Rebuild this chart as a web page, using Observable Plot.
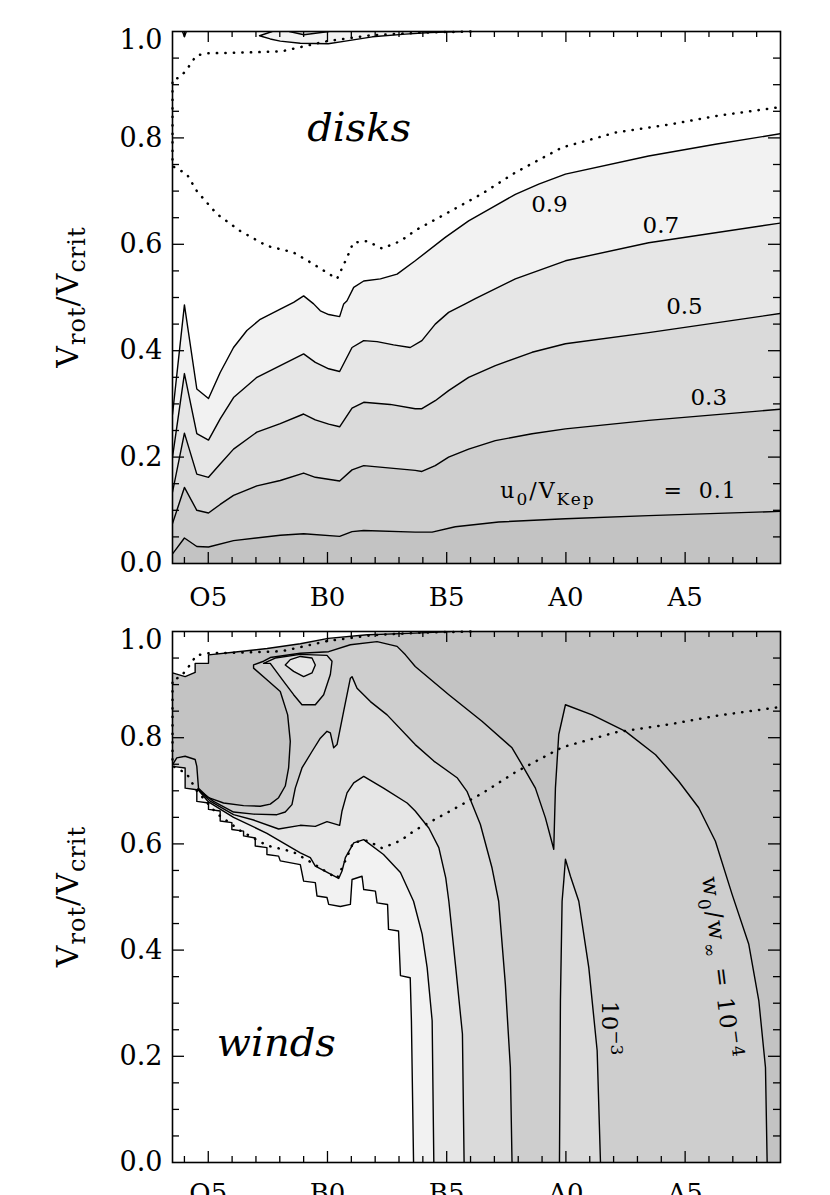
<!DOCTYPE html>
<html>
<head>
<meta charset="utf-8">
<script src="https://cdn.jsdelivr.net/npm/d3@7"></script>
<script src="https://cdn.jsdelivr.net/npm/@observablehq/plot@0.6"></script>
<style>
  html, body { margin: 0; padding: 0; background: #fff; overflow: hidden; }
  #chart { width: 830px; height: 1195px; overflow: hidden; }
  #chart svg { display: block; }
</style>
</head>
<body>
<div id="chart"></div>
<script>
// ---------- axes ----------
const xDomain = [3.5, 29];            // spectral subtype index (O0 = 0, B0 = 10, A0 = 20)
const yDomain = [0, 1];               // V_rot / V_crit
const spectralTicks = [5, 10, 15, 20, 25];
const spectralLabels = ["O5", "B0", "B5", "A0", "A5"];
const yTickValues = [0, 0.2, 0.4, 0.6, 0.8];
const yTopTick = [1.0];

// ---------- top panel: u0/VKep contours [subtype, Vrot/Vcrit] ----------
const disk09 = [[3.5,0.28],[4.0,0.486],[4.52,0.328],[5.01,0.310],[5.5,0.359],[6.06,0.406],[6.62,0.438],[7.18,0.459],[8.02,0.478],[8.58,0.491],[9.0,0.503],[9.42,0.488],[9.70,0.475],[10.05,0.468],[10.51,0.464],[10.68,0.488],[10.82,0.494],[11.10,0.519],[11.52,0.531],[12.22,0.535],[12.92,0.544],[13.68,0.569],[14.94,0.613],[15.92,0.644],[16.90,0.669],[17.88,0.694],[18.86,0.713],[19.98,0.732],[23.47,0.766],[26.27,0.788],[29.0,0.808]];
const disk07 = [[3.5,0.20],[4.0,0.357],[4.52,0.244],[5.01,0.232],[5.5,0.272],[6.06,0.312],[7.04,0.350],[8.02,0.372],[9.0,0.394],[9.49,0.378],[10.05,0.366],[10.51,0.361],[11.03,0.406],[11.52,0.419],[12.08,0.417],[12.77,0.411],[13.47,0.406],[13.96,0.419],[14.52,0.450],[15.08,0.472],[15.78,0.488],[16.20,0.498],[17.88,0.535],[19.98,0.569],[23.47,0.603],[29.0,0.640]];
const disk05 = [[3.5,0.134],[4.0,0.245],[4.52,0.168],[5.01,0.162],[5.5,0.187],[6.06,0.215],[7.04,0.247],[8.02,0.263],[9.0,0.281],[9.49,0.270],[10.05,0.262],[10.51,0.257],[11.03,0.292],[11.52,0.303],[12.63,0.299],[13.68,0.291],[13.96,0.291],[14.52,0.306],[15.08,0.325],[15.92,0.350],[17.04,0.372],[18.58,0.397],[19.98,0.413],[23.47,0.434],[29.0,0.470]];
const disk03 = [[3.5,0.075],[4.0,0.143],[4.52,0.100],[5.01,0.095],[5.5,0.111],[6.06,0.128],[7.04,0.146],[8.02,0.156],[9.0,0.170],[9.49,0.162],[10.51,0.155],[11.03,0.176],[11.52,0.184],[13.68,0.175],[13.96,0.173],[14.52,0.184],[15.08,0.200],[15.92,0.215],[17.04,0.231],[18.58,0.244],[19.98,0.253],[23.47,0.269],[29.0,0.290]];
const disk01 = [[3.5,0.018],[4.0,0.048],[4.52,0.032],[5.01,0.031],[6.06,0.043],[8.02,0.053],[9.0,0.056],[10.51,0.051],[11.03,0.060],[11.52,0.062],[13.68,0.059],[14.39,0.059],[15.36,0.069],[17.18,0.078],[19.98,0.084],[23.47,0.090],[29.0,0.098]];
const diskBlob = [[7.68,1.0],[7.15,0.992],[7.6,0.986],[8.02,0.982],[8.86,0.978],[10.03,0.977],[10.75,0.982],[11.88,0.990],[13.27,0.995],[14.31,0.998],[15.57,1.0]];
const diskBlobInner = [[8.40,1.0],[9.01,0.994],[10.06,1.0]];
const diskNotch = [[3.92,1.0],[4.0,0.99],[4.08,1.0]];
const diskLabels = [
  {label: "0.9", x: 19.31, y: 0.674},
  {label: "0.7", x: 23.98, y: 0.636},
  {label: "0.5", x: 24.97, y: 0.483},
  {label: "0.3", x: 25.99, y: 0.311}
];
const diskKeyStart = [19.27, 0.122];
const diskKeyEnd = [27.19, 0.122];
const diskTitle = [{t: "disks", x: 9.15, y: 0.794}];

// ---------- critical (dotted) boundary, same in both panels ----------
const critical = [[16.0,1.0],[14.0,0.998],[11.85,0.993],[10.0,0.982],[9.0,0.972],[8.1,0.963],[7.0,0.961],[5.0,0.959],[4.5,0.955],[4.06,0.926],[3.78,0.913],[3.5,0.91],[3.5,0.747],[4.10,0.732],[4.52,0.700],[5.36,0.657],[6.34,0.625],[7.46,0.597],[8.56,0.585],[9.40,0.563],[10.40,0.535],[10.82,0.575],[11.08,0.603],[11.66,0.606],[12.29,0.592],[13.06,0.606],[13.68,0.626],[15.07,0.660],[16.48,0.695],[17.88,0.735],[19.84,0.782],[22.08,0.810],[24.46,0.826],[26.27,0.841],[28.86,0.857],[29.0,0.858]];

// ---------- bottom panel: w0/w_inf contours ----------
const windC4 = [[3.50,0.749],[3.68,0.762],[4.03,0.765],[4.45,0.759],[4.52,0.746],[4.59,0.705],[5.01,0.687],[5.64,0.677],[6.48,0.672],[7.18,0.671],[7.60,0.675],[7.95,0.687],[8.23,0.709],[8.37,0.743],[8.44,0.793],[8.33,0.843],[8.02,0.887],[7.46,0.909],[6.90,0.931],[6.90,0.937],[7.32,0.944],[7.60,0.951],[8.86,0.959],[10.05,0.962],[10.96,0.975],[12.08,0.981],[12.92,0.972],[13.27,0.956],[13.68,0.934],[15.09,0.881],[16.48,0.831],[17.74,0.781],[18.16,0.749],[18.72,0.705],[19.14,0.649],[19.49,0.590],[19.56,0.705],[19.70,0.806],[19.98,0.862],[21.10,0.843],[22.50,0.812],[23.76,0.768],[24.73,0.718],[25.57,0.668],[26.27,0.605],[26.97,0.505],[27.67,0.411],[28.09,0.305],[28.37,0.179],[28.44,0.0]];
const windC3 = [[4.56,0.703],[5.22,0.680],[6.06,0.660],[6.90,0.656],[7.88,0.655],[8.23,0.660],[8.51,0.674],[8.65,0.705],[8.93,0.743],[9.35,0.774],[9.70,0.799],[9.98,0.812],[10.12,0.809],[10.26,0.781],[10.40,0.787],[10.68,0.850],[10.96,0.912],[11.03,0.915],[11.24,0.893],[11.80,0.868],[12.50,0.843],[13.68,0.787],[14.46,0.756],[15.45,0.724],[15.85,0.699],[16.41,0.637],[16.90,0.555],[17.18,0.492],[17.46,0.336],[17.67,0.179],[17.74,0.0]];
const windC3Spike = [[19.73,0.0],[19.77,0.305],[19.84,0.492],[19.91,0.530],[19.98,0.571],[20.19,0.539],[20.54,0.492],[20.96,0.367],[21.31,0.211],[21.45,0.0]];
const windC2 = [[4.56,0.703],[5.10,0.680],[6.06,0.655],[6.90,0.645],[7.95,0.628],[8.86,0.635],[9.49,0.633],[9.98,0.642],[10.51,0.635],[10.61,0.662],[10.82,0.696],[11.10,0.715],[11.52,0.727],[12.35,0.705],[13.34,0.677],[13.68,0.662],[14.25,0.630],[14.67,0.593],[14.96,0.536],[15.09,0.492],[15.38,0.367],[15.66,0.242],[15.73,0.0]];
const windC1 = [[4.56,0.703],[5.01,0.679],[6.06,0.650],[7.46,0.620],[8.86,0.583],[9.28,0.574],[9.49,0.558],[10.47,0.535],[10.61,0.549],[10.75,0.574],[11.10,0.602],[11.52,0.608],[12.35,0.580],[13.06,0.546],[13.61,0.492],[13.97,0.430],[14.18,0.367],[14.39,0.267],[14.46,0.0]];
const windRing = [[7.32,0.940],[7.60,0.940],[8.16,0.906],[8.58,0.881],[8.93,0.862],[9.49,0.862],[9.84,0.881],[10.12,0.919],[10.19,0.944],[9.98,0.955],[8.86,0.957],[7.81,0.950]];
const windBlob = [[8.23,0.937],[8.44,0.947],[8.86,0.953],[9.35,0.950],[9.49,0.937],[9.35,0.922],[9.00,0.915],[8.58,0.925]];
const windStair = [[3.50,0.746],[4.03,0.743],[4.03,0.705],[4.52,0.702],[4.52,0.680],[5.01,0.677],[5.01,0.665],[5.50,0.662],[5.50,0.643],[5.99,0.640],[5.99,0.627],[6.48,0.624],[6.48,0.615],[6.97,0.611],[6.97,0.596],[7.46,0.593],[7.46,0.580],[7.95,0.577],[8.02,0.568],[8.86,0.561],[9.00,0.530],[9.49,0.527],[9.56,0.502],[9.98,0.499],[10.05,0.486],[10.54,0.482],[10.96,0.486],[11.03,0.533],[11.45,0.539],[11.52,0.514],[12.01,0.511],[12.08,0.489],[12.52,0.486],[12.56,0.439],[12.98,0.436],[13.06,0.352],[13.47,0.348],[13.52,0.267],[13.61,0.0]];
const windTopEdge = [[3.50,0.922],[4.03,0.915],[4.45,0.923],[4.45,0.940],[5.01,0.940],[5.01,0.956],[6.05,0.961],[7.47,0.968],[8.86,0.977],[10.03,0.987],[11.67,0.994],[13.68,0.997],[15.15,1.0]];
const windTitle = [{t: "winds", x: 5.36, y: 0.201}];
const windKey3 = [21.52, 0.252];
const windKey4 = [25.73, 0.536];

// ---------- styling ----------
const FONT = "'DejaVu Serif', 'Liberation Serif', serif";
const GREYS = ["#f2f2f2", "#e6e6e6", "#dadada", "#cecece", "#c3c3c3"];
const PX = d => d[0], PY = d => d[1];
const LINE = {x: PX, y: PY, stroke: "black", strokeWidth: 1.4, clip: true};
const DOTTED = {x: PX, y: PY, stroke: "black", strokeWidth: 2.5, strokeDasharray: "0.3 8.2", strokeLinecap: "round"};

function panel({height, marginTop, marginBottom, marks, labelGap}) {
  const W = 830 - 172 - 50;
  const H = height - marginTop - marginBottom;
  const minorX = d3.range(4, 29).filter(d => d % 5 !== 0);
  const minorY = d3.range(1, 20).filter(i => i % 4 !== 0).map(i => i / 20);
  const majorY = [0.2, 0.4, 0.6, 0.8];
  const tk = {stroke: "black", strokeWidth: 1.3};
  return Plot.plot({
    width: 830, height, marginLeft: 172, marginRight: 50, marginTop, marginBottom,
    x: {domain: xDomain, axis: null},
    y: {domain: yDomain, axis: null},
    style: {fontFamily: FONT, background: "white", color: "black"},
    marks: [
      ...marks,
      Plot.tickX(spectralTicks, {x: d => d, insetTop: H - 11, ...tk}),
      Plot.tickX(spectralTicks, {x: d => d, insetBottom: H - 11, ...tk}),
      Plot.tickX(minorX, {x: d => d, insetTop: H - 6, ...tk}),
      Plot.tickX(minorX, {x: d => d, insetBottom: H - 6, ...tk}),
      Plot.tickY(majorY, {y: d => d, insetRight: W - 12, ...tk}),
      Plot.tickY(majorY, {y: d => d, insetLeft: W - 12, ...tk}),
      Plot.tickY(minorY, {y: d => d, insetRight: W - 7, ...tk}),
      Plot.tickY(minorY, {y: d => d, insetLeft: W - 7, ...tk}),
      Plot.frame({stroke: "black", strokeWidth: 1.6}),
      Plot.text(yTickValues, {y: d => d, frameAnchor: "left", textAnchor: "end", dx: -10, text: d => d.toFixed(1), fontSize: 27}),
      Plot.text(yTopTick, {y: d => d, frameAnchor: "left", textAnchor: "end", dx: -10, dy: 9, text: d => d.toFixed(1), fontSize: 27}),
      Plot.text(spectralTicks, {x: d => d, frameAnchor: "bottom", lineAnchor: "top", dy: labelGap, text: (d, i) => spectralLabels[i], fontSize: 26})
    ]
  });
}

// ---------- top panel ----------
const diskBands = [[disk09, GREYS[0]], [disk07, GREYS[1]], [disk05, GREYS[2]], [disk03, GREYS[3]], [disk01, GREYS[4]]];
const topPlot = panel({
  height: 620, marginTop: 31, marginBottom: 57, labelGap: 24,
  marks: [
    ...diskBands.map(([data, fill]) => Plot.areaY(data, {x: PX, y1: 0, y2: PY, fill, clip: true})),
    Plot.line(diskBlob, {...LINE, fill: GREYS[0]}),
    Plot.line(diskBlobInner, {...LINE, fill: GREYS[1]}),
    Plot.line(diskNotch, LINE),
    ...[disk09, disk07, disk05, disk03, disk01].map(data => Plot.line(data, LINE)),
    Plot.line(critical, DOTTED),
    Plot.text(diskLabels, {x: "x", y: "y", text: "label", fontSize: 23}),
    Plot.text(diskTitle, {x: "x", y: "y", text: "t", fontSize: 40, fontStyle: "italic", textAnchor: "start", lineAnchor: "bottom", letterSpacing: 2})
  ]
});

// ---------- bottom panel ----------
const [X0, X1] = xDomain, [Y0, Y1] = yDomain;
const closeUp = path => [...path, [X1, Y0], [X1, Y1], [X0, Y1], [X0, path[0][1]]];
const closed = path => [...path, path[0]];
const windFills = [
  [closeUp(windC1), GREYS[1]],
  [closeUp(windC2), GREYS[2]],
  [closeUp(windC3), GREYS[3]],
  [windC3Spike, GREYS[2]],
  [closeUp(windC4), GREYS[4]],
  [windRing, GREYS[2]],
  [windBlob, GREYS[1]],
  [[...windStair, [X0, Y0]], "white"],
  [[...windTopEdge, [X0, Y1]], "white"]
];
const botPlot = panel({
  height: 575, marginTop: 11, marginBottom: 33, labelGap: 21,
  marks: [
    Plot.frame({fill: GREYS[0]}),
    ...windFills.map(([data, fill]) => Plot.line(data, {x: PX, y: PY, fill, stroke: "none", clip: true})),
    ...[windStair, windTopEdge, windC4, windC3, windC3Spike, windC2, windC1, closed(windRing), closed(windBlob)].map(data => Plot.line(data, LINE)),
    Plot.line(critical, DOTTED),
    Plot.text(windTitle, {x: "x", y: "y", text: "t", fontSize: 40, fontStyle: "italic", textAnchor: "start", lineAnchor: "bottom", letterSpacing: 2})
  ]
});

const chart = document.getElementById("chart");
chart.append(topPlot, botPlot);

// ---------- rich text (sub/superscripts) ----------
function yTitle(svg, cy) {
  const t = d3.select(svg).append("text")
    .attr("transform", `translate(78,${cy}) rotate(-90)`)
    .attr("text-anchor", "middle").attr("font-family", FONT).attr("font-size", 30)
    .attr("fill", "black").attr("letter-spacing", 1);
  t.append("tspan").text("V");
  t.append("tspan").attr("font-size", 24).attr("dy", 7).text("rot");
  t.append("tspan").attr("dy", -7).text("/V");
  t.append("tspan").attr("font-size", 24).attr("dy", 7).text("crit");
}
yTitle(topPlot, 297);
yTitle(botPlot, 276.5);

{
  const sx = topPlot.scale("x"), sy = topPlot.scale("y");
  const g = d3.select(topPlot);
  const t = g.append("text")
    .attr("x", sx.apply(diskKeyStart[0])).attr("y", sy.apply(diskKeyStart[1]))
    .attr("font-family", FONT).attr("font-size", 22).attr("fill", "black").attr("letter-spacing", 2);
  t.append("tspan").text("u");
  t.append("tspan").attr("font-size", 17).attr("dy", 7).text("0");
  t.append("tspan").attr("dy", -7).text("/V");
  t.append("tspan").attr("font-size", 17).attr("dy", 7).text("Kep");
  g.append("text")
    .attr("x", sx.apply(diskKeyEnd[0])).attr("y", sy.apply(diskKeyEnd[1]))
    .attr("text-anchor", "end").style("white-space", "pre")
    .attr("font-family", FONT).attr("font-size", 22).attr("fill", "black").attr("letter-spacing", 1)
    .text("=  0.1");
}
{
  const sx = botPlot.scale("x"), sy = botPlot.scale("y");
  const g = d3.select(botPlot);
  const t3 = g.append("text")
    .attr("transform", `translate(${sx.apply(windKey3[0])},${sy.apply(windKey3[1])}) rotate(90)`)
    .attr("text-anchor", "middle").attr("font-family", FONT).attr("font-size", 23).attr("fill", "black");
  t3.append("tspan").text("10");
  t3.append("tspan").attr("font-size", 17).attr("dy", -9).text("\u22123");
  const t4 = g.append("text")
    .attr("transform", `translate(${sx.apply(windKey4[0])},${sy.apply(windKey4[1])}) rotate(83)`)
    .attr("text-anchor", "start").attr("font-family", FONT).attr("font-size", 23).attr("fill", "black")
    .attr("letter-spacing", 2).style("white-space", "pre");
  t4.append("tspan").text("w");
  t4.append("tspan").attr("font-size", 17).attr("dy", 7).text("0");
  t4.append("tspan").attr("dy", -7).text("/w");
  t4.append("tspan").attr("font-size", 17).attr("dy", 7).text("\u221e");
  t4.append("tspan").attr("dy", -7).text(" = 10");
  t4.append("tspan").attr("font-size", 17).attr("dy", -9).text("\u22124");
}
</script>
</body>
</html>
